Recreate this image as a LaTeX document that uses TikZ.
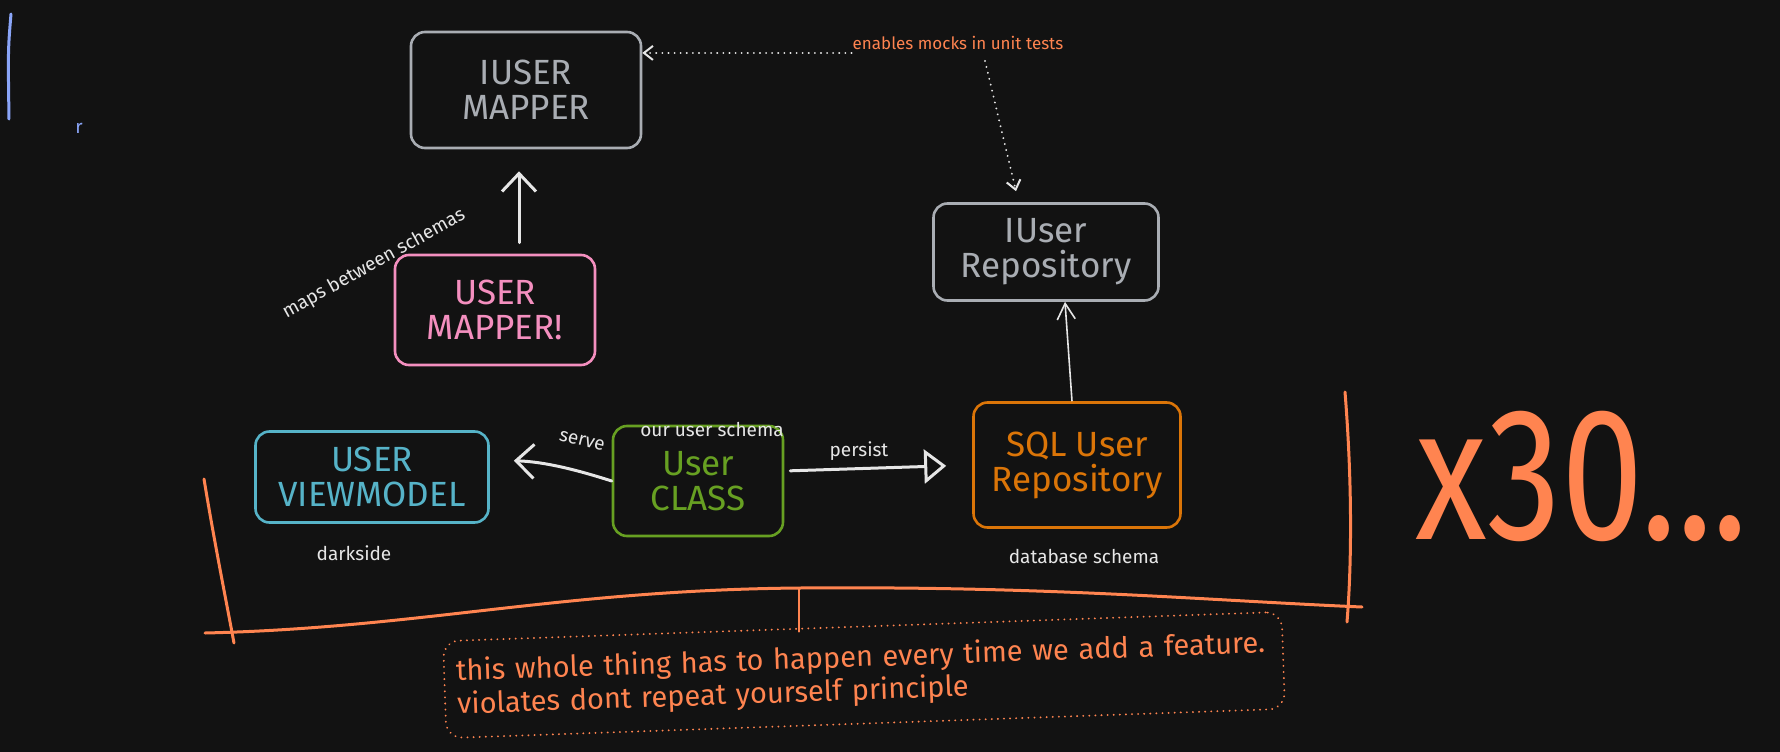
\documentclass[tikz,border=0pt]{standalone}
\usepackage{fontspec}
\setmainfont{Fira Sans}
\usetikzlibrary{positioning, arrows.meta, calc}
\definecolor{canvas}{HTML}{121212}
\definecolor{chalk}{HTML}{E6E6E6}
\definecolor{slate}{HTML}{A9ADB3}
\definecolor{ember}{HTML}{FF8450}
\definecolor{rust}{HTML}{DB7508}
\definecolor{rosy}{HTML}{F48FBF}
\definecolor{lagoon}{HTML}{56B3C8}
\definecolor{moss}{HTML}{67A022}
\definecolor{periw}{HTML}{8AA5F8}
\newcommand{\boxfont}{\fontsize{35}{35}\selectfont}
\newcommand{\tagfont}{\fontsize{19}{22}\selectfont}
\tikzset{
  sketchbox/.style={draw=#1, text=#1, line width=2.6pt, rounded corners=14pt, align=center, inner sep=4pt, font=\boxfont},
  tag/.style={text=chalk, font=\tagfont, inner sep=1pt},
  notebox/.style={draw=ember, text=ember, line width=2pt, dash pattern=on 0.1pt off 6pt, line cap=round,
    rounded corners=16pt, font=\fontsize{29}{33}\selectfont, align=left, text width=815pt,
    minimum height=97pt, inner xsep=12pt},
  fatwire/.style={chalk, line width=3pt, line cap=round, -{Straight Barb[length=18pt, width=34pt]}},
  thinwire/.style={chalk, line width=1.6pt, -{Straight Barb[length=16pt, width=18pt]}},
  dotwire/.style={chalk, line width=2pt, dash pattern=on 0.1pt off 6pt, line cap=round, -{Straight Barb[length=9pt, width=14pt]}},
  brace/.style={ember, line width=3pt, line cap=round}
}
\begin{document}
\begin{tikzpicture}[x=1pt, y=-1pt]
  \useasboundingbox (0,0) rectangle (1780,752);
  \fill[canvas] (0,0) rectangle (1780,752);

  \draw[periw, line width=3pt, line cap=round] (11,14) .. controls (8,50) .. (9,119);
  \node[text=periw, font=\tagfont] (stray) at (79,128) {r};

  \node[sketchbox=slate, minimum width=230pt, minimum height=116pt] (iumapper) at (526,90) {IUSER\\MAPPER};
  \node[sketchbox=rosy, minimum width=200pt, minimum height=110pt] (umapper) at (495,310) {USER\\MAPPER!};
  \node[sketchbox=slate, minimum width=225pt, minimum height=97pt] (iurepo) at (1046,252) {IUser\\Repository};
  \node[sketchbox=lagoon, minimum width=233pt, minimum height=91pt] (viewmodel) at (372,477) {USER\\VIEWMODEL};
  \node[sketchbox=moss, minimum width=170pt, minimum height=110pt] (userclass) at (698,481) {User\\CLASS};
  \node[sketchbox=rust, minimum width=207pt, minimum height=125pt] (sqlrepo) at (1077,465) {SQL User\\Repository};

  \node[text=ember, font=\fontsize{17}{19}\selectfont, inner sep=1pt] (mocks) at (958,43) {enables mocks in unit tests};
  \node[tag, rotate=29] (maps) at (374,264) {maps between schemas};
  \node[tag] (darkside) at (354,553) {darkside};
  \node[tag, rotate=-14] (serve) at (582,441) {serve};
  \node[tag] (ours) at (712,430) {our user schema};
  \node[tag] (persist) at (859,451) {persist};
  \node[tag] (dbschema) at (1084,556) {database schema};

  \draw[dotwire] ([yshift=-2pt]mocks.south west) -- ([yshift=-2pt]iumapper.east |- mocks.south west);
  \draw[dotwire] ([xshift=27pt, yshift=-10pt]mocks.south) -- ([xshift=-30pt, yshift=11pt]iurepo.north);
  \draw[fatwire, shorten <=11pt, shorten >=22pt] ([xshift=24pt]umapper.north) -- ([xshift=24pt]umapper.north |- iumapper.south);
  \draw[thinwire] ([xshift=-5pt]sqlrepo.north) -- ([xshift=19pt]iurepo.south);
  \draw[fatwire, shorten >=24pt] (userclass.west) to[bend right=8] ([yshift=17pt]viewmodel.east);
  \draw[fatwire, shorten <=6pt, shorten >=26pt, -{Triangle[open, length=22pt, width=34pt]}] ([yshift=10pt]userclass.east) -- (sqlrepo.west);

  \draw[brace] (204,479) .. controls (214,540) and (226,600) .. (234,643);
  \draw[brace] (205,633) .. controls (420,628) and (560,590) .. (800,588) .. controls (1050,586) and (1200,600) .. (1362,607);
  \draw[brace] (1345,392) .. controls (1352,480) and (1352,560) .. (1347,622);
  \coordinate (bracemid) at (799,588);

  \node[text=ember, font=\fontsize{180}{180}\selectfont, inner sep=0pt] (times) at (1582,476) {\scalebox{0.82}[1.05]{x30...}};

  \node[notebox, rotate=2] (whole) at (864,675) {this whole thing has to happen every time we add a feature.\\violates dont repeat yourself principle};
  \draw[brace, line width=2pt] (bracemid) -- ([yshift=-6pt]bracemid |- whole.north);
\end{tikzpicture}
\end{document}
